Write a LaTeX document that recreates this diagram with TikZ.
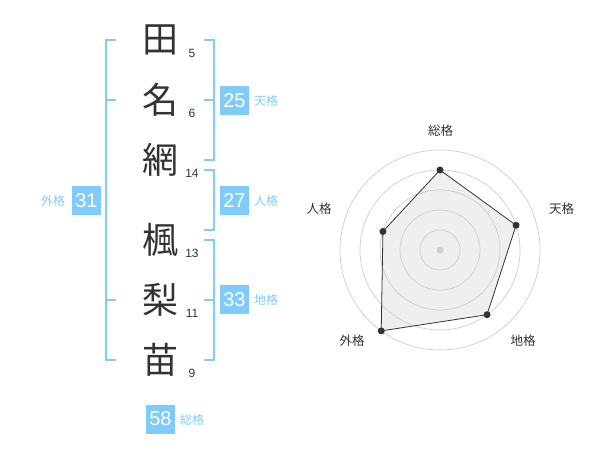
\documentclass[tikz,border=0pt]{standalone}
\usepackage{fontspec}
\setmainfont{Liberation Sans}
\newfontfamily\cjk{Noto Sans CJK JP}
\definecolor{kblue}{HTML}{80CBFA}
\definecolor{ink}{HTML}{333333}
\definecolor{ringc}{HTML}{CCCCCC}
\definecolor{fillg}{HTML}{EFEFEF}
\begin{document}
\begin{tikzpicture}[x=1pt,y=-1pt,
  kanji/.style={font=\cjk\fontsize{36}{36}\selectfont, text=ink, inner sep=0pt},
  strokes/.style={font=\fontsize{12}{12}\selectfont, text=ink, inner sep=0pt},
  numbox/.style={fill=kblue, text=white, minimum width=29pt, minimum height=29pt, inner sep=0pt, font=\fontsize{20}{20}\selectfont},
  kaku/.style={font=\cjk\fontsize{12}{12}\selectfont, text=kblue, inner sep=0pt},
  bracket/.style={draw=kblue, line width=2pt},
  axislabel/.style={font=\cjk\fontsize{12.5}{12.5}\selectfont, text=ink, inner sep=0pt},
  ringline/.style={draw=ringc, line width=0.7pt},
  vdot/.style={circle, fill=ink, inner sep=0pt, minimum size=7pt},
  cdot/.style={circle, fill=ringc, inner sep=0pt, minimum size=7pt}]
\useasboundingbox (0,0) rectangle (600,470);

% brackets
\draw[bracket] (116,40) -- (106,40) -- (106,360) -- (116,360);
\draw[bracket] (106,100) -- (116,100);
\draw[bracket] (106,300) -- (116,300);
\draw[bracket] (204,40) -- (214,40) -- (214,160) -- (204,160);
\draw[bracket] (214,100) -- (204,100);
\draw[bracket] (204,170.5) -- (214,170.5) -- (214,230) -- (204,230);
\draw[bracket] (204,240) -- (214,240) -- (214,360) -- (204,360);
\draw[bracket] (214,300) -- (204,300);

% name characters
\node[kanji] (k1) at (160,40) {田};
\node[kanji] (k2) at (160,100) {名};
\node[kanji] (k3) at (160,160) {網};
\node[kanji] (k4) at (160,240) {楓};
\node[kanji] (k5) at (160,300) {梨};
\node[kanji] (k6) at (160,360) {苗};
\node[strokes] (s1) at (192,53) {5};
\node[strokes] (s2) at (192,113) {6};
\node[strokes] (s3) at (192,173) {14};
\node[strokes] (s4) at (192,253) {13};
\node[strokes] (s5) at (192,313) {11};
\node[strokes] (s6) at (192,373) {9};

% boxes
\node[numbox] (ten) at (234.5,100.5) {25};
\node[kaku] (tenl) at (266,100.5) {天格};
\node[numbox] (jin) at (234.5,200.5) {27};
\node[kaku] (jinl) at (266,200.5) {人格};
\node[numbox] (chi) at (234.5,300) {33};
\node[kaku] (chil) at (266,300) {地格};
\node[numbox] (gai) at (86.5,200.5) {31};
\node[kaku] (gail) at (53,200.5) {外格};
\node[numbox] (sou) at (160.5,419) {58};
\node[kaku] (soul) at (192,420) {総格};

% radar
\begin{scope}[shift={(440,250)}, yscale=-1]
  \coordinate (c) at (0,0);
  \coordinate (p1) at (90:80);
  \coordinate (p2) at (18:80);
  \coordinate (p3) at (-54:80);
  \coordinate (p4) at (-126:100);
  \coordinate (p5) at (162:60);
  \fill[fillg] (p1) -- (p2) -- (p3) -- (p4) -- (p5) -- cycle;
  \foreach \r in {20,40,60,80,100} \draw[ringline] (c) circle[radius=\r];
  \draw[ink, line width=0.8pt] (p1) -- (p2) -- (p3) -- (p4) -- (p5) -- cycle;
  \node[cdot] (cd) at (c) {};
  \node[vdot] (d1) at (p1) {};
  \node[vdot] (d2) at (p2) {};
  \node[vdot] (d3) at (p3) {};
  \node[vdot] (d4) at (p4) {};
  \node[vdot] (d5) at (p5) {};
\end{scope}
\node[axislabel] (a1) at (440.5,130.5) {総格};
\node[axislabel] (a2) at (561.5,208.5) {天格};
\node[axislabel] (a3) at (523,340.5) {地格};
\node[axislabel] (a4) at (352,341) {外格};
\node[axislabel] (a5) at (319,208.5) {人格};
\end{tikzpicture}
\end{document}
